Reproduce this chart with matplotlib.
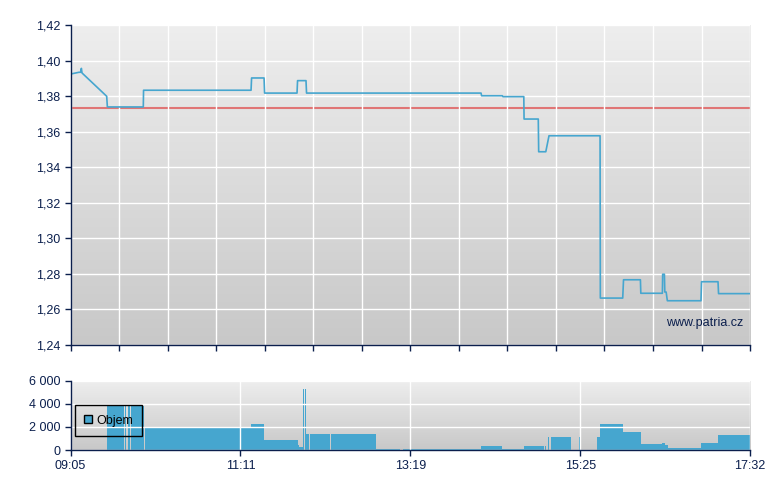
import numpy as np
import matplotlib
matplotlib.use("Agg")
import matplotlib.pyplot as plt
from matplotlib.colors import LinearSegmentedColormap
from matplotlib.patches import Patch

# minutes after the 09:05 open, and the traded price
price_t = [0, 6.3, 7.5, 8.1, 8.6, 27.0, 27.5, 54.3, 54.5, 134.7, 135.1, 144.4, 144.8,
           169.0, 169.4, 175.7, 176.1, 306.3, 306.7, 322.2, 322.6, 338.2, 338.4, 349.0,
           349.3, 354.6, 357.0, 395.1, 395.3, 412.0, 412.6, 425.2, 425.5, 441.6, 441.8,
           443.1, 443.4, 444.4, 445.3, 470.4, 470.8, 483.1, 483.5, 507]
price = [1.3924, 1.3934, 1.3934, 1.3956, 1.3930, 1.3799, 1.3739, 1.3739, 1.3833, 1.3833,
         1.3902, 1.3902, 1.3817, 1.3817, 1.3887, 1.3887, 1.3817, 1.3817, 1.3802, 1.3802,
         1.3797, 1.3797, 1.3671, 1.3671, 1.3487, 1.3487, 1.3577, 1.3577, 1.2664, 1.2664,
         1.2767, 1.2767, 1.2691, 1.2691, 1.2798, 1.2798, 1.2698, 1.2698, 1.2649, 1.2649,
         1.2756, 1.2756, 1.2689, 1.2689]
prev_close = 1.3735

# volume blocks: start / end (minutes after open) and volume
vol_start = [27.2, 40.7, 42.7, 45.1, 55.4, 134.7, 144.2, 169.7, 170.7, 173.5, 175.0, 175.7,
             178.5, 179.8, 181.2, 194.6, 227.9, 248.1, 306.3, 322.0, 338.4, 353.8, 356.3,
             358.5, 379.4, 392.8, 395.1, 412.2, 425.4, 441.3, 443.4, 445.8, 470.4, 483.1]
vol_end = [39.9, 41.6, 44.6, 54.6, 134.7, 144.2, 169.7, 170.7, 173.5, 174.2, 175.7, 178.0,
           179.2, 180.7, 193.8, 227.9, 245.8, 306.3, 322.0, 338.4, 353.3, 354.8, 357.0,
           373.4, 380.2, 395.1, 412.2, 425.4, 441.3, 443.4, 445.8, 470.4, 483.1, 507]
volume = [3800, 3800, 3800, 3800, 1950, 2250, 870, 430, 260, 5280, 5280, 1400,
          1400, 1400, 1400, 1400, 100, 100, 375, 100, 375, 375, 1155,
          1155, 1155, 1155, 2250, 1560, 520, 606, 430, 200, 606, 1300]

session_len = 507
time_labels = ["09:05", "11:11", "13:19", "15:25", "17:32"]
price_ticks = [1.24, 1.26, 1.28, 1.30, 1.32, 1.34, 1.36, 1.38, 1.40, 1.42]
vol_ticks = [0, 2000, 4000, 6000]

navy = "#0b1f4d"
blue = "#46a6cf"
plt.rcParams["font.family"] = ["Liberation Sans", "DejaVu Sans"]
plt.rcParams["font.size"] = 9

bg_cmap = LinearSegmentedColormap.from_list("bg", ["#c8c8c8", "#eeeeee"])
grad = np.linspace(0, 1, 256).reshape(-1, 1)


def style_axes(ax):
    ax.imshow(grad, extent=[0, 1, 0, 1], transform=ax.transAxes, aspect="auto",
              cmap=bg_cmap, origin="lower", zorder=0)
    for side in ["top", "right"]:
        ax.spines[side].set_visible(False)
    for side in ["left", "bottom"]:
        ax.spines[side].set_color(navy)
        ax.spines[side].set_linewidth(1.0)
        ax.spines[side].set_zorder(5)
    ax.tick_params(direction="out", length=4, width=1, color=navy, labelcolor=navy)
    ax.grid(True, color="white", linewidth=1.0, zorder=1)
    ax.set_axisbelow(False)


fig = plt.figure(figsize=(7.8, 4.9), dpi=100)

# price panel
ax = fig.add_axes([0.0904, 0.2959, 0.8712, 0.6531])
style_axes(ax)
ax.plot(price_t, price, color=blue, lw=1.2, zorder=3)
ax.axhline(prev_close, color="#e07575", lw=1.5, zorder=2)
ax.set_xlim(0, session_len)
ax.set_ylim(1.24, 1.42)
ax.set_xticks(np.linspace(0, session_len, 15))
ax.set_xticklabels([])
ax.set_yticks(price_ticks)
ax.set_yticklabels([f"{v:.2f}".replace(".", ",") for v in price_ticks])
ax.text(0.99, 0.07, "www.patria.cz", transform=ax.transAxes, ha="right", va="center",
        color=navy, fontsize=9, zorder=4)

# volume panel
axv = fig.add_axes([0.0904, 0.0816, 0.8712, 0.1414])
style_axes(axv)
widths = [e - s for s, e in zip(vol_start, vol_end)]
axv.bar(vol_start, volume, width=widths, align="edge", color=blue, linewidth=0, zorder=2)
axv.set_xlim(0, session_len)
axv.set_ylim(0, 6000)
axv.set_xticks(np.linspace(0, session_len, 5))
axv.set_xticklabels(time_labels)
axv.set_yticks(vol_ticks)
axv.set_yticklabels([f"{v:,}".replace(",", " ") for v in vol_ticks])
leg = axv.legend(handles=[Patch(facecolor=blue, edgecolor="black", label="Objem")],
                 loc="upper left", bbox_to_anchor=(0.0066, 0.645), borderaxespad=0,
                 frameon=True, fancybox=False, handlelength=0.65, handleheight=0.65,
                 handletextpad=0.3, borderpad=0.75, fontsize=9)
frame = leg.get_frame()
frame.set_facecolor("none")
frame.set_edgecolor("black")
frame.set_alpha(1)
frame.set_linewidth(1.0)
leg.set_zorder(6)
for t in leg.get_texts():
    t.set_color("black")

fig.savefig("out.png", dpi=100)
